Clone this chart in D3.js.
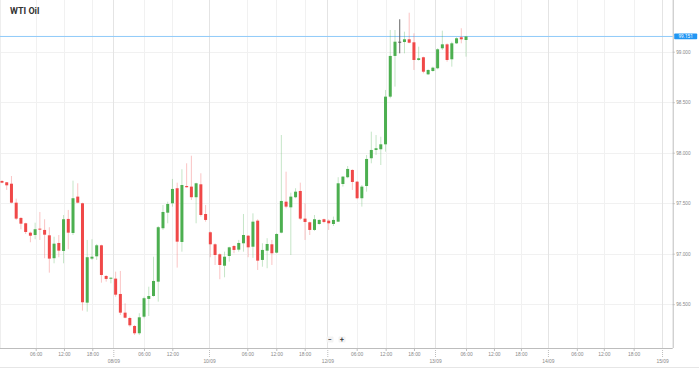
<!DOCTYPE html>
<html>
<head>
<meta charset="utf-8">
<script src="https://cdn.jsdelivr.net/npm/d3@7"></script>
<style>
html,body{margin:0;padding:0;background:#fff;}
svg{display:block;font-family:Roboto,"Noto Sans",sans-serif;}
</style>
</head>
<body>
<svg id="chart" width="699" height="369"></svg>
<script>
// ---- data ----
const title = "WTI Oil";
const opens  = [97.720,97.707,97.693,97.505,97.354,97.301,97.208,97.185,97.248,97.235,97.182,96.955,97.106,97.027,97.344,97.205,97.565,97.499,96.515,96.951,96.974,97.083,96.779,96.753,96.753,96.601,96.416,96.363,96.284,96.212,96.376,96.552,96.581,96.723,97.252,97.406,97.499,97.648,97.116,97.670,97.664,97.559,97.687,97.393,97.212,97.093,96.994,96.881,96.977,97.076,97.040,97.103,97.178,97.069,97.327,96.938,97.030,97.093,97.010,97.208,97.515,97.459,97.559,97.621,97.347,97.311,97.235,97.294,97.341,97.327,97.294,97.317,97.690,97.757,97.829,97.713,97.549,97.670,97.945,98.027,98.034,98.083,98.555,98.958,99.099,99.096,99.123,99.093,98.918,98.945,98.776,98.809,98.836,99.034,99.073,98.925,99.083,99.143,99.116];
const highs  = [97.727,97.710,97.769,97.545,97.361,97.307,97.218,97.307,97.413,97.341,97.262,97.168,97.185,97.383,97.433,97.723,97.697,97.505,97.136,97.143,97.096,97.089,96.789,96.766,96.822,96.829,96.509,96.376,96.294,96.410,96.574,96.673,96.970,97.274,97.482,97.515,97.740,97.703,97.836,97.895,97.970,97.703,97.796,97.482,97.220,97.103,97.004,97.020,97.069,97.086,97.136,97.393,97.185,97.400,97.341,97.103,97.153,97.136,97.202,98.175,97.812,97.604,97.648,97.703,97.499,97.317,97.383,97.341,97.347,97.341,97.367,97.757,97.769,97.868,97.836,97.720,97.680,97.977,98.208,98.175,98.158,98.621,99.215,99.215,99.321,99.198,99.386,99.182,99.050,98.951,98.826,98.852,99.034,99.208,99.083,99.099,99.143,99.232,99.155];
const lows   = [97.697,97.631,97.499,97.334,97.242,97.195,97.113,97.143,97.136,96.955,96.812,96.905,96.965,96.905,97.044,97.185,97.499,96.436,96.426,96.938,96.938,96.713,96.723,96.707,96.574,96.393,96.360,96.277,96.195,96.195,96.360,96.383,96.574,96.525,97.235,97.301,97.466,96.862,97.020,97.654,97.532,97.301,97.367,97.317,96.965,96.888,96.747,96.766,96.921,97.004,97.020,97.020,96.965,96.958,96.839,96.871,96.856,96.888,97.004,97.202,97.450,96.987,97.549,97.334,97.136,97.185,97.225,97.287,97.301,97.235,97.274,97.314,97.664,97.747,97.631,97.539,97.466,97.614,97.895,97.977,97.878,98.010,98.539,98.654,98.984,98.984,99.083,98.819,98.911,98.786,98.769,98.802,98.826,99.017,98.901,98.852,99.076,99.083,98.951];
const closes = [97.703,97.677,97.505,97.347,97.297,97.215,97.178,97.242,97.238,97.188,96.951,97.099,97.030,97.341,97.208,97.549,97.505,96.519,96.965,96.970,97.083,96.789,96.750,96.762,96.594,96.416,96.366,96.291,96.212,96.370,96.559,96.581,96.730,97.262,97.413,97.492,97.641,97.119,97.680,97.658,97.559,97.697,97.383,97.334,97.093,96.987,96.888,96.970,97.063,97.037,97.106,97.185,97.063,97.317,96.931,97.037,97.096,97.004,97.195,97.522,97.466,97.565,97.614,97.347,97.314,97.235,97.341,97.334,97.314,97.301,97.334,97.697,97.763,97.839,97.710,97.549,97.664,97.938,98.027,98.044,98.083,98.555,98.958,99.099,99.099,99.123,99.089,98.918,98.935,98.802,98.819,98.842,99.024,99.073,98.918,99.083,99.133,99.123,99.151];
const lastPrice = 99.151;
const yTicks = [96.5, 97.0, 97.5, 98.0, 98.5, 99.0];
// x tick positions in candle-slot units and their labels
const xTickSlots  = [7.12,13.09,19.07,23.51,29.99,35.97,43.72,51.81,57.93,63.93,68.70,74.91,81.03,87.01,91.45,98.0,103.9,109.6,115.3,121.4,127.1,133.4,139.4];
const xTickLabels = ["06:00","12:00","18:00","08/09","06:00","12:00","10/09","06:00","12:00","18:00","12/09","06:00","12:00","18:00","13/09","06:00","12:00","18:00","14/09","06:00","12:00","18:00","15/09"];

// ---- layout ----
const W = 699, H = 369;
const plotR = 672.7, plotB = 348;
const svg = d3.select("#chart");

const x = d3.scaleLinear().domain([-0.42, 141.65]).range([0, plotR]);
const y = d3.scaleLinear().domain([96.066, 99.512]).range([plotB, 0]);

const candles = opens.map((o,i)=>({i, o, h:highs[i], l:lows[i], c:closes[i]}));
const isDate = s => s.includes("/");

svg.append("rect").attr("width",W).attr("height",H).attr("fill","#fff");

// grid
const grid = svg.append("g");
grid.selectAll(".hg").data(yTicks).join("line")
  .attr("x1",0).attr("x2",plotR)
  .attr("y1",d=>Math.round(y(d))+0.5).attr("y2",d=>Math.round(y(d))+0.5)
  .attr("stroke","#f1f1f1").attr("stroke-width",1);
grid.selectAll(".vg").data(xTickSlots).join("line")
  .attr("x1",d=>Math.round(x(d))+0.5).attr("x2",d=>Math.round(x(d))+0.5)
  .attr("y1",0).attr("y2",plotB)
  .attr("stroke",(d,i)=>isDate(xTickLabels[i])?"#e4e4e4":"#f1f1f1").attr("stroke-width",1);

svg.append("line").attr("x1",0.5).attr("x2",0.5).attr("y1",0).attr("y2",plotB).attr("stroke","#eeeeee");

// current price line
svg.append("line").attr("x1",0).attr("x2",plotR)
  .attr("y1",y(lastPrice)).attr("y2",y(lastPrice))
  .attr("stroke","#90caf9").attr("stroke-width",1);

// candles
const up = "#4caf50", down = "#f04848", flat = "#555";
const col = d => d.c > d.o ? up : (d.c < d.o ? down : flat);
const bw = 3;
const cg = svg.append("g");
cg.selectAll(".wick").data(candles).join("line")
  .attr("x1",d=>x(d.i)).attr("x2",d=>x(d.i))
  .attr("y1",d=>y(d.h)).attr("y2",d=>y(d.l))
  .attr("stroke",col).attr("stroke-width",1)
  .attr("stroke-opacity",d=>d.c===d.o?0.9:0.32);
cg.selectAll(".body").data(candles).join("rect")
  .attr("x",d=>x(d.i)-bw/2)
  .attr("y",d=>y(Math.max(d.o,d.c)))
  .attr("width",bw)
  .attr("height",d=>Math.max(1, Math.abs(y(d.o)-y(d.c))))
  .attr("fill",col);

// right axis
const ya = d3.axisRight(y).tickValues(yTicks).tickFormat(d3.format(".3f")).tickSize(2).tickPadding(1.5);
const yg = svg.append("g").attr("transform",`translate(${plotR},0)`).call(ya);
yg.select(".domain").attr("stroke","#bdbdbd").attr("d",`M0.5,0V${plotB}`);
yg.selectAll(".tick line").attr("stroke","#bdbdbd");
yg.selectAll("text").attr("fill","#888").style("font-size","4.7px");

// price label
const pl = svg.append("g").attr("transform",`translate(${plotR+1.5},${y(lastPrice)})`);
pl.append("rect").attr("x",0).attr("y",-2.9).attr("width",23).attr("height",5.8).attr("rx",0.8).attr("fill","#2196f3");
pl.append("text").attr("x",11.5).attr("y",0).attr("dy","0.35em").attr("text-anchor","middle")
  .attr("fill","#fff").style("font-size","4.7px").text(d3.format(".3f")(lastPrice));

// bottom axis
const xa = d3.axisBottom(x).tickValues(xTickSlots).tickFormat((d,i)=>xTickLabels[i]).tickSize(3).tickPadding(2);
const xg = svg.append("g").attr("transform",`translate(0,${plotB})`).call(xa);
xg.select(".domain").attr("stroke","#bdbdbd").attr("d",`M0,0.5H${plotR}`);
xg.selectAll(".tick line").attr("stroke","#bdbdbd");
xg.selectAll(".tick").each(function(d,i){
  const t = d3.select(this);
  if (isDate(xTickLabels[i])) {
    t.select("line").attr("y2",9).attr("stroke-dasharray","1,1");
    t.select("text").attr("y",12);
  }
});
xg.selectAll("text").attr("fill","#888").style("font-size","4.9px");

svg.append("line").attr("x1",0).attr("x2",W).attr("y1",367.5).attr("y2",367.5).attr("stroke","#e6e6e6");

// zoom buttons
const zb = svg.append("g");
const btns = [{s:"−",cx:330},{s:"+",cx:342}];
zb.selectAll("rect").data(btns).join("rect")
  .attr("x",d=>d.cx-3.5).attr("y",336.5).attr("width",7).attr("height",6).attr("rx",1)
  .attr("fill","#f3f3f3");
zb.selectAll("text").data(btns).join("text")
  .attr("x",d=>d.cx).attr("y",339.6).attr("dy","0.35em").attr("text-anchor","middle")
  .attr("fill","#444").style("font-size","7px").style("font-weight","bold").text(d=>d.s);

// title
svg.append("text").attr("x",10).attr("y",14).attr("fill","#333")
  .style("font-size","9px").style("font-weight","bold").text(title);
</script>
</body>
</html>
